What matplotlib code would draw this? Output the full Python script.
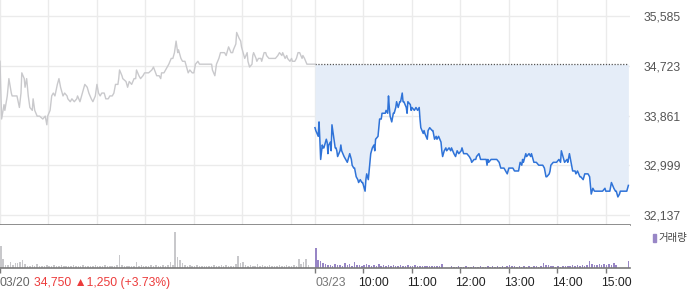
import matplotlib
matplotlib.use("Agg")
import matplotlib.pyplot as plt

# ---------------- data ----------------
# (minutes since 09:00, price) for 03/20 (previous day)
prev_day = [(0,34800),(2,33800),(5,34050),(6,33950),(9,34200),(11,34500),(14,34250),(15,34200),
    (16,34200),(20,34200),(21,34200),(24,34000),(26,34250),(27,34600),(30,34500),(31,34350),
    (33,34500),(35,34200),(37,34000),(40,33950),(41,34150),(43,33950),(46,33850),(47,33850),
    (49,33850),(53,33800),(56,33850),(58,33700),(59,33850),(62,33950),(64,34200),(66,34250),
    (68,34200),(71,34400),(73,34500),(75,34350),(78,34200),(80,34250),(83,34200),(84,34150),
    (87,34100),(89,34150),(92,34100),(95,34150),(96,34200),(99,34100),(101,34200),(103,34300),
    (105,34400),(108,34350),(110,34250),(113,34150),(115,34100),(118,34200),(120,34400),(122,34250),
    (124,34200),(126,34250),(129,34250),(131,34150),(134,34150),(136,34200),(139,34200),(141,34250),
    (143,34400),(146,34400),(147,34500),(148,34650),(151,34550),(152,34500),(156,34450),(158,34350),
    (160,34450),(163,34400),(166,34500),(168,34500),(169,34650),(172,34550),(174,34500),(177,34550),
    (179,34600),(182,34600),(184,34600),(188,34650),(190,34700),(194,34550),(197,34550),(199,34500),
    (200,34600),(203,34600),(207,34700),(209,34750),(212,34850),(214,34850),(216,34950),(218,35150),
    (220,34950),(221,35000),(224,34850),(226,34800),(229,34800),(231,34700),(233,34600),(235,34650),
    (238,34600),(240,34600),(242,34750),(245,34800),(247,34750),(250,34750),(252,34750),(255,34750),
    (257,34750),(260,34750),(262,34750),(263,34650),(266,34550),(267,34650),(268,34750),(271,34850),
    (273,34950),(276,34950),(278,34950),(280,34900),(281,34950),(283,35050),(286,34950),(288,34950),
    (289,35000),(292,35100),(293,35300),(296,35200),(298,35150),(299,35050),(301,34950),(303,34850),
    (306,34950),(307,34800),(309,34700),(312,34750),(313,34900),(314,34950),(317,34850),(318,34800),
    (320,34850),(323,34850),(324,34800),(327,34950),(329,34950),(330,34900),(333,34850),(336,34850),
    (339,34850),(341,34850),(344,34900),(346,34950),(349,34900),(350,34950),(353,34850),(355,34900),
    (356,34850),(359,34800),(361,34850),(362,34800),(365,34800),(367,34850),(369,34950),(371,34950),
    (374,34850),(375,34900),(377,34850),(380,34750),(381,34750),(390,34750)]

# (minutes since 09:00, price) for 03/23 (current day)
curr_day = [(0,33650),(1,33600),(4,33500),(5,33750),(6,33450),(7,33100),(9,33350),(10,33300),
    (11,33300),(14,33450),(15,33400),(16,33200),(17,33350),(19,33400),(20,33250),(21,33700),
    (22,33600),(25,33300),(26,33300),(27,33250),(28,33150),(31,33250),(32,33350),(33,33250),
    (36,33150),(38,33100),(40,33050),(41,33100),(43,33200),(45,33100),(46,33000),(48,32950),
    (49,32950),(51,32800),(53,32750),(54,32700),(56,32750),(58,32700),(59,32700),(61,32600),
    (62,32550),(63,32750),(64,32850),(66,32750),(68,33050),(69,33200),(71,33300),(73,33350),
    (74,33250),(75,33450),(78,33500),(80,33800),(82,33800),(83,33900),(85,33900),(87,33900),
    (88,33950),(90,33900),(91,34200),(92,34000),(93,33850),(95,33750),(97,33900),(98,33900),
    (100,34000),(101,34100),(103,34000),(105,34100),(106,34100),(108,34250),(109,34100),(110,34100),
    (113,34000),(114,33900),(115,34100),(118,34050),(119,33950),(120,34000),(123,33950),(125,34000),
    (127,33950),(129,34000),(130,33800),(131,33650),(134,33550),(135,33600),(136,33550),(139,33450),
    (140,33600),(142,33650),(145,33600),(146,33600),(148,33450),(150,33500),(151,33450),(153,33500),
    (156,33400),(157,33250),(158,33150),(160,33250),(162,33300),(163,33250),(166,33300),(168,33250),
    (169,33300),(172,33200),(174,33150),(176,33250),(178,33200),(181,33250),(182,33300),(184,33200),
    (187,33200),(188,33200),(191,33150),(193,33100),(194,33050),(197,33100),(199,33100),(200,33150),
    (203,33200),(205,33100),(207,33100),(209,33100),(212,33100),(213,33000),(214,33100),(215,33050),
    (218,33100),(220,33100),(223,33100),(225,33100),(228,33050),(230,32950),(231,32950),(234,32950),
    (236,32900),(238,32850),(240,32950),(242,32950),(245,32950),(247,32900),(249,32900),(251,32900),
    (252,32900),(254,33050),(256,33000),(257,33100),(258,33050),(261,33200),(262,33150),(265,33200),
    (267,33150),(268,33200),(271,33050),(273,33050),(274,33050),(277,33000),(279,33000),(282,33000),
    (284,32950),(286,32800),(287,32800),(290,32850),(291,32900),(292,33000),(295,33050),(297,33050),
    (299,33050),(302,33100),(304,33050),(305,33250),(307,33150),(309,33050),(312,33100),(313,33050),
    (315,33200),(317,33050),(319,32900),(322,32900),(323,32850),(325,32900),(328,32800),(329,32800),
    (332,32750),(334,32850),(335,32850),(338,32850),(340,32800),(341,32650),(342,32500),(344,32600),
    (346,32550),(349,32550),(351,32550),(354,32550),(356,32550),(359,32600),(360,32550),(362,32550),
    (365,32550),(367,32700),(370,32600),(372,32550),(373,32550),(375,32450),(377,32500),(378,32550),
    (382,32550),(386,32550),(388,32650)]

# volume per 3-minute bucket (thousand shares)
vol_prev = [22,9,3,3,6,3,5,5,6,8, 4,2,2,3,2,4,2,2,2,3, 2,2,3,2,2,3,2,2,2,2,
            3,2,2,2,3,2,2,2,2,3, 2,2,2,3,2,2,2,2,3,13, 3,2,2,2,2,2,6,2,3,2,
            2,2,3,2,3,2,2,3,2,3, 6,3,36,11,8,5,3,2,3,2, 2,3,2,2,2,2,2,2,3,2,
            2,3,2,3,2,2,2,4,12,5, 6,3,2,3,2,2,4,2,3,2, 2,3,2,2,2,3,2,2,3,2,
            2,3,2,9,4,6,9,3,0,0]
vol_curr = [20,8,7,5,4,3,3,2,4,3, 3,2,5,3,4,2,6,3,3,2, 3,4,3,2,3,2,4,2,3,2,
            3,2,3,2,2,3,2,2,3,2, 2,3,2,2,2,2,2,2,2,2, 2,2,4,0,0,0,2,1,1,2,
            1,1,2,1,1,2,1,1,2,1, 1,2,1,2,1,2,1,2,1,2, 3,2,2,1,2,1,2,1,2,1,
            2,2,1,2,5,3,3,2,2,1, 2,1,2,2,2,2,3,2,3,2, 3,2,3,7,4,3,3,4,3,4,
            3,4,3,5,3,0,0,0,0,7]

prev_close = 34750
y_ticks = [35585, 34723, 33861, 32999, 32137]
day_labels = ["03/20", "03/23"]
hour_labels = ["10:00", "11:00", "12:00", "13:00", "14:00", "15:00"]
change_text = "34,750 \u25b21,250 (+3.73%)"
vol_label = "거래량"

DAY = 390  # minutes per session

# ---------------- style ----------------
plt.rcParams['font.family'] = ['Liberation Sans', 'DejaVu Sans']
GRID = '#ebebeb'
AXIS = '#7a7a7a'
GRAY_LINE = '#c9c9cc'
BLUE = '#2f73d8'
FILL = '#e5edf8'
PURPLE = '#9886c6'
VGRAY = '#c8c8cb'
RED = '#ec3b3b'

fig = plt.figure(figsize=(7.0, 2.89), dpi=100)
W, H = 700, 289
ax = fig.add_axes([0, (H - 225) / H, 630 / W, 225 / H])
axv = fig.add_axes([0, (H - 268) / H, 630 / W, 43 / H])

# ---------------- price panel ----------------
px = [t for t, _ in prev_day]
pp = [p for _, p in prev_day]
cx = [DAY + t for t, _ in curr_day]
cp = [p for _, p in curr_day]

for v in y_ticks:
    ax.axhline(v, color=GRID, lw=1, zorder=0)
grid_x = list(range(0, DAY, 60)) + [DAY] + [DAY + m for m in range(60, DAY, 60)]
for g in grid_x:
    ax.axvline(g, color=GRID, lw=1, zorder=0)

ax.fill_between(cx + [2 * DAY - 2], cp + [cp[-1]], prev_close, color=FILL, lw=0, zorder=1)
ax.plot([DAY, 2 * DAY - 2], [prev_close, prev_close], color='#555555', lw=0.9,
        ls=(0, (1, 1.3)), zorder=2)
ax.plot(px, pp, color=GRAY_LINE, lw=1.0, zorder=3)
ax.plot(cx, cp, color=BLUE, lw=1.1, zorder=4)

ax.set_xlim(0, 2 * DAY)
ax.set_ylim(31964, 35862)
ax.yaxis.tick_right()
ax.set_yticks(y_ticks)
ax.set_yticklabels([f"{v:,}" for v in y_ticks], fontsize=8.7, color='#555555')
ax.tick_params(axis='y', length=0, pad=10)
ax.set_xticks([])
for s in ['top', 'left', 'right']:
    ax.spines[s].set_visible(False)
ax.spines['bottom'].set_color(AXIS)
ax.spines['bottom'].set_linewidth(1.2)

# ---------------- volume panel ----------------
bx_prev = [i * 3 for i in range(len(vol_prev))]
bx_curr = [DAY + i * 3 for i in range(len(vol_curr))]
axv.bar(bx_prev, vol_prev, width=1.9, align='edge', color=VGRAY, lw=0)
axv.bar(bx_curr, vol_curr, width=1.9, align='edge', color=PURPLE, lw=0)
axv.set_xlim(0, 2 * DAY)
axv.set_ylim(0, max(vol_prev) * 1.2)
axv.set_yticks([])
tick_pos = [0, DAY] + [DAY + 60 * (i + 1) for i in range(len(hour_labels))]
axv.set_xticks(tick_pos)
axv.set_xticklabels([])
axv.tick_params(axis='x', length=3.5, width=1, color=AXIS, direction='out')
for s in ['top', 'left', 'right']:
    axv.spines[s].set_visible(False)
axv.spines['bottom'].set_color(AXIS)
axv.spines['bottom'].set_linewidth(1.2)

# bottom labels
def lab(x, txt, dx_px, color, **kw):
    axv.annotate(txt, xy=(x, 0), xycoords=('data', 'axes fraction'),
                 xytext=(dx_px * 0.72, -15 * 0.72), textcoords='offset points',
                 ha='left', va='center', fontsize=8.7, color=color, **kw)

lab(0, day_labels[0], 0, '#666666')
lab(0, change_text, 34, RED)
lab(DAY, day_labels[1], 0, '#777777')
for i, h in enumerate(hour_labels):
    lab(DAY + 60 * (i + 1), h, -5, '#222222')

# volume legend
fig.patches.append(plt.Rectangle((653 / W, (H - 242) / H), 3 / W, 8 / H,
                                 transform=fig.transFigure, color=PURPLE))
fig.text(658 / W, (H - 238) / H, vol_label, fontsize=7.5, color='#444444',
         va='center', ha='left', family=['Noto Sans CJK KR', 'DejaVu Sans'])

fig.savefig("out.png", dpi=100)
